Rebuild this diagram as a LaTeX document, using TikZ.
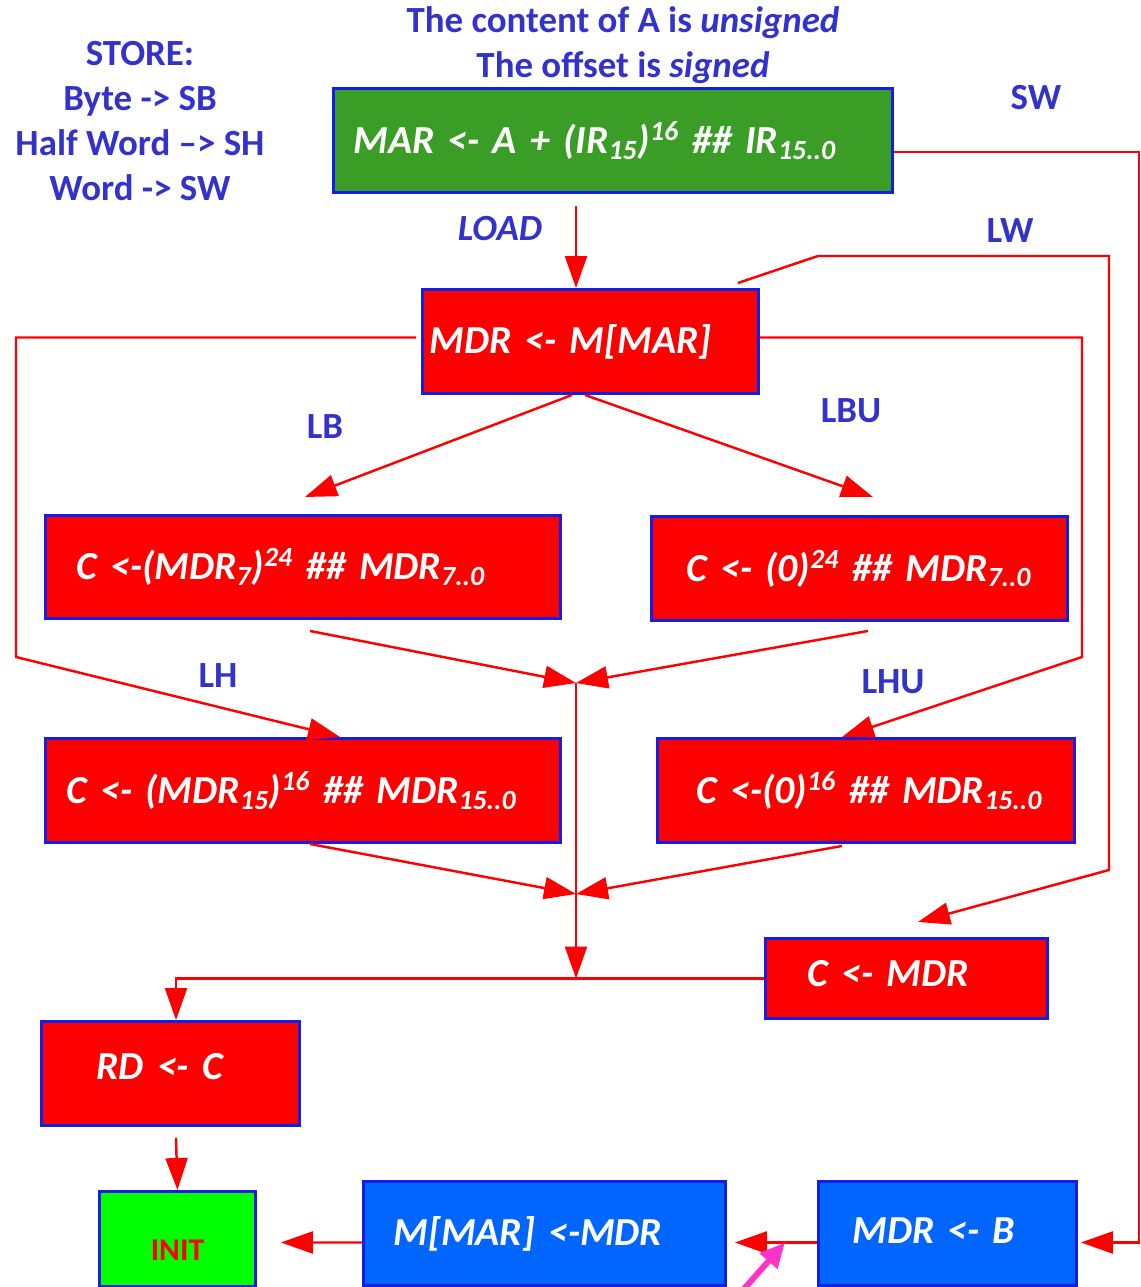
\documentclass[tikz,border=0pt]{standalone}
\usepackage{fontspec}
\setmainfont{Carlito}
\usepackage{tikz}
\usetikzlibrary{arrows.meta,calc,positioning}

\definecolor{lblue}{RGB}{51,51,204}
\definecolor{bdr}{RGB}{20,30,230}
\definecolor{margreen}{RGB}{58,158,38}
\definecolor{initgreen}{RGB}{0,255,0}
\definecolor{membl}{RGB}{0,102,255}
\definecolor{hilite}{RGB}{255,51,204}

\tikzset{
  box/.style={draw=bdr, line width=1.7pt, anchor=north west, inner xsep=0pt,
    align=left, text=white, font=\fontsize{22.6}{27}\selectfont\bfseries\itshape},
  lbl/.style={text=lblue, align=center, font=\fontsize{21}{25.6}\selectfont\bfseries},
  arr/.style={draw=red, line width=1.4pt, -{Triangle[length=0.64cm,width=0.44cm]}},
  pointer/.style={draw=hilite, line width=3.4pt, -{Triangle[length=0.5cm,width=0.45cm]}},
}

\begin{document}
\begin{tikzpicture}[x=0.02cm, y=-0.02cm]
    \useasboundingbox (0,0) rectangle (1140,1287);
    %% Boxes
    \node[box, fill=margreen, minimum height=2.08cm, text width=11.18cm] (mar) at (332,87)
      {\hspace*{0.4cm}MAR <- A + (IR\textsubscript{15})\textsuperscript{16} \#\# IR\textsubscript{15..0}};
    \node[box, fill=red, minimum height=2.08cm, text width=6.72cm] (mdr) at (421,288)
      {\hspace*{0.14cm}MDR <- M[MAR]};
    \node[box, fill=red, minimum height=2.06cm, text width=10.3cm] (lb) at (44,514)
      {\hspace*{0.62cm}C <-(MDR\textsubscript{7})\textsuperscript{24} \#\# MDR\textsubscript{7..0}};
    \node[box, fill=red, minimum height=2.08cm, text width=8.32cm] (lbu) at (650,515)
      {\hspace*{0.7cm}C <- (0)\textsuperscript{24} \#\# MDR\textsubscript{7..0}};
    \node[box, fill=red, minimum height=2.08cm, text width=10.3cm] (lh) at (44,737)
      {\hspace*{0.42cm}C <- (MDR\textsubscript{15})\textsuperscript{16} \#\# MDR\textsubscript{15..0}};
    \node[box, fill=red, minimum height=2.08cm, text width=8.34cm] (lhu) at (656,737)
      {\hspace*{0.78cm}C <-(0)\textsuperscript{16} \#\# MDR\textsubscript{15..0}};
    \node[box, fill=red, minimum height=1.6cm, text width=5.64cm, text depth=0.2cm] (cmdr) at (764,937)
      {\hspace*{0.84cm}C <- MDR};
    \node[box, fill=red, minimum height=2.08cm, text width=5.16cm, text depth=0.28cm] (rd) at (40,1020)
      {\hspace*{1.1cm}RD <- C};
    \node[box, fill=initgreen, minimum height=1.9cm, text width=3.12cm, align=center,
      text height=0.85cm, text depth=0cm,
      text=red, font=\fontsize{18}{21}\selectfont\bfseries] (init) at (98,1190) {INIT};
    \node[box, fill=membl, minimum height=2.08cm, text width=7.24cm] (mem) at (362,1180)
      {\hspace*{0.6cm}M[MAR] <-MDR};
    \node[box, fill=membl, minimum height=2.08cm, text width=5.16cm, text depth=0.12cm] (mdrb) at (817,1180)
      {\hspace*{0.68cm}MDR <- B};
    %% Merge points
    \coordinate (m1) at (576,683);
    \coordinate (m2) at (576,894);
    \coordinate (m3) at (m1 |- cmdr.west);
    %% Connectors
    \draw[arr] ($(mar.south west)+(244,12)$) -- ($(mdr.north west)+(155,0)$);
    \draw[arr] ($(mar.south east)+(0,-42)$) -- ++(245,0) |- ($(mdrb.east)+(3,9)$);
    \draw[arr] ($(mdr.north east)+(-22,-5)$) -- ++(80,-27) -- (1109,256) -- (1109,870)
      -- ($(cmdr.north west)+(154,-15)$);
    \draw[arr] ($(mdr.west)+(-5,-4)$) -| (16,657) -- ($(lh.north west)+(296,0)$);
    \draw[arr] ($(mdr.east)+(0,-4)$) -| (1082,657) -- ($(lhu.north west)+(186,0)$);
    \draw[arr] ($(mdr.south west)+(151,0)$) -- ($(lb.north west)+(261,-17)$);
    \draw[arr] ($(mdr.south west)+(164,0)$) -- ($(lbu.north west)+(223,-18)$);
    \draw[arr] ($(lb.south west)+(266,11)$) -- (m1);
    \draw[arr] ($(lbu.south west)+(218,9)$) -- (m1);
    \draw[arr] ($(lh.south west)+(266,0)$) -- (m2);
    \draw[arr] ($(lhu.south west)+(186,2)$) -- (m2);
    \draw[arr] (m1) -- (m3);
    \draw[arr] (cmdr.west) -| ($(rd.north west)+(136,0)$);
    \draw[arr] ($(rd.south west)+(136,11)$) -- (init.north);
    \draw[arr] ($(mem.west)+(0,9)$) -- ($(init.east)+(24,3.5)$);
    \draw[arr] ($(mdrb.west)+(0,9)$) -- ($(mem.east)+(8,9)$);
    % pink pointer
    \coordinate (pk) at (743,1290);
    \draw[pointer] (pk) -- ($(mdrb.west)+(-32,9)$);
    %% Labels
    \node[lbl] (store) at (140,121) {STORE:\\Byte -> SB\\Half Word –> SH\\Word -> SW};
    \node[lbl] (note) at (623,45) {The content of A is \textit{unsigned}\\The offset is \textit{signed}};
    \node[lbl] (tsw) at (1036,98) {SW};
    \node[lbl] (tload) at (500,229) {\textit{LOAD}};
    \node[lbl] (tlw) at (1010,231) {LW};
    \node[lbl] (tlb) at (325,427) {LB};
    \node[lbl] (tlbu) at (851,411) {LBU};
    \node[lbl] (tlh) at (218,676) {LH};
    \node[lbl] (tlhu) at (893,682) {LHU};
\end{tikzpicture}
\end{document}
